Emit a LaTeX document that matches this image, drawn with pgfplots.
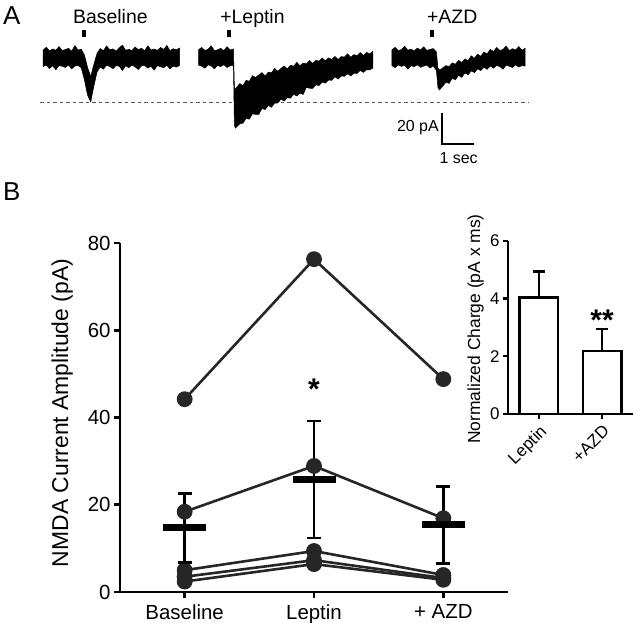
\documentclass[border=0pt]{standalone}
\usepackage{pgfplots}
\pgfplotsset{compat=1.18}
\usepackage{fontspec}
\setmainfont{Liberation Sans}
\definecolor{dk}{HTML}{262626}
\pgfplotsset{cell/.style={dk, line width=2.6bp, mark=*, mark size=6.6bp, mark options={solid, fill=dk, draw=dk}}}

\begin{document}
\begin{tikzpicture}[x=1bp,y=1bp]
\path[use as bounding box] (0,0) rectangle (633,-623);
\node[anchor=base west, inner sep=0, font=\fontsize{26}{30}\selectfont] at (3,-25) {A};
\node[anchor=base west, inner sep=0, font=\fontsize{26}{30}\selectfont] at (3,-200) {B};

% ---------------- Panel A: current traces, time (s) vs current (pA), noisy band as envelope ----------------
\begin{axis}[at={(40bp,-160bp)}, anchor=south west, scale only axis,
  width=488bp, height=135bp, xmin=0, xmax=15.39, ymin=-65.8, ymax=21.3,
  hide axis, clip=false]
\addplot[black!65, line width=1.6bp, dash pattern=on 3.5bp off 3bp] coordinates {(0,-28.7) (15.39,-28.7)};
% Baseline
\addplot[fill=black, draw=black, line width=0.5bp] coordinates {
(0.1,5.2)(0.2,6.9)(0.3,4.6)(0.4,5.8)(0.5,5.0)(0.6,7.4)(0.7,4.8)(0.8,5.5)(0.9,6.2)(1.0,4.4)(1.1,8.0)(1.2,5.1)(1.3,5.7)(1.4,2.0)(1.5,-6.0)(1.6,-12.0)(1.7,-4.0)(1.8,3.0)
(1.9,6.1)(2.0,4.7)(2.1,7.8)(2.2,5.3)(2.3,5.9)(2.4,4.5)(2.5,6.6)(2.6,8.3)(2.7,5.0)(2.8,5.6)(2.9,4.8)(3.0,7.1)(3.1,5.4)(3.2,6.3)(3.3,4.6)(3.4,7.9)(3.5,5.2)(3.6,5.8)(3.7,4.9)(3.8,6.8)(3.9,5.5)(4.0,8.1)(4.1,4.7)(4.2,6.0)(4.3,5.3)(4.4,6.4)
(4.4,-4.8)(4.3,-5.9)(4.2,-5.2)(4.1,-7.0)(4.0,-4.7)(3.9,-6.3)(3.8,-5.6)(3.7,-4.9)(3.6,-7.8)(3.5,-5.4)(3.4,-6.5)(3.3,-4.8)(3.2,-5.1)(3.1,-7.4)(3.0,-5.7)(2.9,-4.6)(2.8,-6.2)(2.7,-5.0)(2.6,-8.1)(2.5,-5.3)(2.4,-4.9)(2.3,-6.9)(2.2,-5.5)(2.1,-4.7)(2.0,-7.2)(1.9,-5.8)
(1.8,-9.0)(1.7,-18.0)(1.6,-28.3)(1.5,-24.0)(1.4,-14.0)
(1.3,-6.3)(1.2,-4.8)(1.1,-5.2)(1.0,-7.0)(0.9,-4.5)(0.8,-6.1)(0.7,-5.3)(0.6,-4.9)(0.5,-7.6)(0.4,-5.0)(0.3,-6.8)(0.2,-4.6)(0.1,-5.5)
} -- cycle;
% +Leptin
\addplot[fill=black, draw=black, line width=0.5bp] coordinates {
(5.0,5.4)(5.1,6.8)(5.2,4.9)(5.3,5.6)(5.4,7.9)(5.5,4.7)(5.6,5.3)(5.7,6.2)(5.8,4.8)(5.9,7.3)(6.0,5.1)(6.1,5.9)(6.13,-18.5)(6.16,-20.5)
(6.2,-19.0)(6.3,-16.5)(6.4,-17.8)(6.5,-14.4)(6.6,-15.0)(6.7,-11.4)(6.8,-12.6)(6.9,-10.9)
(7.0,-9.4)(7.1,-11.6)(7.2,-9.1)(7.3,-9.5)(7.4,-6.7)(7.5,-8.6)(7.6,-6.7)(7.7,-5.2)(7.8,-7.0)(7.9,-4.7)(8.0,-5.3)(8.1,-2.8)(8.2,-5.0)(8.3,-3.3)(8.4,-3.8)(8.5,-1.6)(8.6,-3.5)(8.7,-1.5)(8.8,-2.0)(8.9,0.0)
(9.0,-1.8)(9.1,0.1)(9.2,-1.0)(9.3,1.0)(9.4,-0.9)(9.5,0.9)(9.6,0.6)(9.7,2.7)(9.8,0.5)(9.9,2.2)(10.0,1.5)(10.1,3.5)(10.2,1.6)(10.3,3.6)(10.4,2.6)(10.5,4.5)
(10.5,-6.4)(10.4,-7.7)(10.3,-7.6)(10.2,-9.3)(10.1,-8.0)(10.0,-9.9)(9.9,-9.8)(9.8,-11.5)(9.7,-10.2)(9.6,-11.8)(9.5,-11.6)(9.4,-13.6)(9.3,-12.1)(9.2,-14.4)(9.1,-14.2)(9.0,-16.2)
(8.9,-15.5)(8.8,-17.8)(8.7,-17.3)(8.6,-19.6)(8.5,-19.5)(8.4,-18.9)
(8.3,-23.5)(8.2,-22.7)(8.1,-24.5)(8.0,-23.4)(7.9,-25.9)(7.8,-25.6)(7.7,-27.8)(7.6,-26.5)(7.5,-29.0)(7.4,-29.1)(7.3,-31.8)(7.2,-30.6)(7.1,-33.3)(7.0,-32.5)
(6.9,-36.4)(6.8,-36.4)(6.7,-36.0)(6.6,-39.5)(6.5,-39.0)(6.4,-42.0)(6.3,-42.5)(6.2,-44.5)(6.16,-45.2)(6.13,-43.0)
(6.1,-4.7)(6.0,-5.0)(5.9,-6.1)(5.8,-4.3)(5.7,-5.5)(5.6,-4.8)(5.5,-7.0)(5.4,-5.1)(5.3,-4.4)(5.2,-6.6)(5.1,-5.3)(5.0,-4.6)
} -- cycle;
% +AZD
\addplot[fill=black, draw=black, line width=0.5bp] coordinates {
(11.1,5.3)(11.2,6.9)(11.3,4.7)(11.4,5.5)(11.5,7.6)(11.6,5.0)(11.7,5.8)(11.8,4.6)(11.9,6.4)(12.0,5.2)(12.1,7.2)(12.2,4.9)(12.3,5.6)(12.4,6.1)(12.5,4.0)(12.55,-6.5)(12.6,-7.8)
(12.7,-6.4)(12.8,-4.9)(12.9,-5.6)(13.0,-3.1)(13.1,-4.0)(13.2,-1.5)(13.3,-2.9)(13.4,-0.6)(13.5,-1.7)(13.6,1.4)(13.7,-0.2)(13.8,2.5)(13.9,1.1)(14.0,3.9)(14.1,2.6)(14.2,5.6)(14.3,4.2)(14.4,6.8)(14.5,4.9)(14.6,5.5)(14.7,7.7)(14.8,4.8)(14.9,6.0)(15.0,5.2)(15.1,7.4)(15.2,5.0)(15.3,6.3)
(15.3,-5.2)(15.2,-4.9)(15.1,-5.8)(15.0,-4.4)(14.9,-6.1)(14.8,-5.3)(14.7,-4.6)(14.6,-7.2)(14.5,-5.5)(14.4,-4.8)(14.3,-6.6)(14.2,-5.1)(14.1,-7.3)(14.0,-5.9)(13.9,-8.1)(13.8,-7.0)(13.7,-9.4)(13.6,-8.3)(13.5,-10.8)(13.4,-9.6)(13.3,-12.5)(13.2,-11.2)(13.1,-14.0)(13.0,-13.1)(12.9,-16.4)(12.8,-15.6)(12.7,-18.2)
(12.6,-20.6)(12.55,-19.0)(12.5,-8.0)
(12.4,-5.1)(12.3,-6.5)(12.2,-4.6)(12.1,-5.2)(12.0,-6.0)(11.9,-4.4)(11.8,-5.6)(11.7,-5.0)(11.6,-7.1)(11.5,-4.7)(11.4,-5.4)(11.3,-4.5)(11.2,-6.2)(11.1,-4.9)
} -- cycle;
% stimulus marks
\addplot[black, line width=4bp] coordinates {(1.38,13.5) (1.38,18.1)};
\addplot[black, line width=4bp] coordinates {(5.96,13.5) (5.96,18.1)};
\addplot[black, line width=4bp] coordinates {(12.35,13.5) (12.35,18.1)};
% scale bar: 20 pA, 1 s
\addplot[black, line width=2bp] coordinates {(12.68,-35.5) (12.68,-55.5) (13.68,-55.5)};
\node[anchor=base, inner sep=0, font=\fontsize{19.5}{22}\selectfont] at (axis cs:2.22,22.3) {Baseline};
\node[anchor=base, inner sep=0, font=\fontsize{19.5}{22}\selectfont] at (axis cs:6.70,22.3) {+Leptin};
\node[anchor=base, inner sep=0, font=\fontsize{19.5}{22}\selectfont] at (axis cs:13.0,22.3) {+AZD};
\node[anchor=base east, inner sep=0, font=\fontsize{16}{19}\selectfont] at (axis cs:12.58,-47.5) {20 pA};
\node[anchor=base, inner sep=0, font=\fontsize{16}{19}\selectfont] at (axis cs:13.2,-67.9) {1 sec};
\end{axis}

% ---------------- Panel B main ----------------
\begin{axis}[at={(120bp,-592bp)}, anchor=south west, scale only axis,
  width=388bp, height=349bp, xmin=-0.5, xmax=2.5, ymin=0, ymax=80,
  axis x line*=bottom, axis y line*=left,
  axis line style={line width=2.6bp, black},
  major tick style={line width=2.6bp, black},
  xtick align=outside, ytick align=outside, major tick length=6bp,
  ytick={0,20,40,60,80}, xtick={0,1,2},
  xticklabels={Baseline, Leptin, + AZD},
  /pgf/number format/assume math mode=true,
  ticklabel style={font=\fontsize{20.5}{24}\selectfont},
  xticklabel style={yshift=-3bp},
  ylabel={NMDA Current Amplitude (pA)},
  ylabel style={font=\fontsize{23}{27}\selectfont, at={(axis description cs:-0.149,0.513)}, anchor=center},
  clip=false]
\addplot[cell] coordinates {(0,44.2) (1,76.3) (2,48.8)};
\addplot[cell] coordinates {(0,18.4) (1,28.9) (2,16.9)};
\addplot[cell] coordinates {(0,5.0) (1,9.4) (2,3.9)};
\addplot[cell] coordinates {(0,3.5) (1,7.3) (2,3.2)};
\addplot[cell] coordinates {(0,2.4) (1,6.4) (2,2.8)};
% mean +- SEM
\addplot[black, only marks, mark=-, mark size=21.5bp, mark options={line width=7bp},
  error bars/.cd, y dir=both, y explicit, error mark=none,
  error bar style={line width=2.6bp, black}]
  coordinates {(0,14.7) +- (0,7.9) (1,25.8) +- (0,13.4) (2,15.4) +- (0,8.8)};
\addplot[black, only marks, mark=-, mark size=7bp, mark options={line width=2.6bp}]
  coordinates {(0,22.6) (0,6.8) (1,39.2) (1,12.4) (2,24.2) (2,6.6)};
\node[anchor=base, inner sep=0, font=\fontsize{30}{30}\selectfont\bfseries] at (axis cs:1,44.2) {*};
\end{axis}

% ---------------- Inset ----------------
\begin{axis}[at={(508bp,-414bp)}, anchor=south west, scale only axis,
  width=125bp, height=173.3bp, xmin=-0.49, xmax=1.49, ymin=0, ymax=6,
  axis x line*=bottom, axis y line*=left,
  axis line style={line width=2.4bp, black},
  major tick style={line width=2.4bp, black},
  xtick align=outside, ytick align=outside, major tick length=5bp,
  ytick={0,2,4,6}, xtick={0,1}, xticklabels={Leptin,+AZD},
  /pgf/number format/assume math mode=true,
  ticklabel style={font=\fontsize{17}{20}\selectfont},
  xticklabel style={rotate=45, anchor=north east},
  ylabel={Normalized Charge (pA x ms)},
  ylabel style={font=\fontsize{17.5}{20}\selectfont, at={(axis description cs:-0.26,0.49)}, anchor=center},
  clip=false]
\addplot[ybar, bar width=0.61, fill=white, draw=black, line width=2.4bp,
  error bars/.cd, y dir=plus, y explicit, error mark=none,
  error bar style={line width=2.4bp, black}]
  coordinates {(0,4.04) +- (0,0.89) (1,2.19) +- (0,0.76)};
\addplot[black, only marks, mark=-, mark size=6bp, mark options={line width=2.4bp}]
  coordinates {(0,4.93) (1,2.95)};
\node[anchor=base, inner sep=0, font=\fontsize{30}{30}\selectfont\bfseries] at (axis cs:1,2.9) {**};
\end{axis}
\end{tikzpicture}
\end{document}
